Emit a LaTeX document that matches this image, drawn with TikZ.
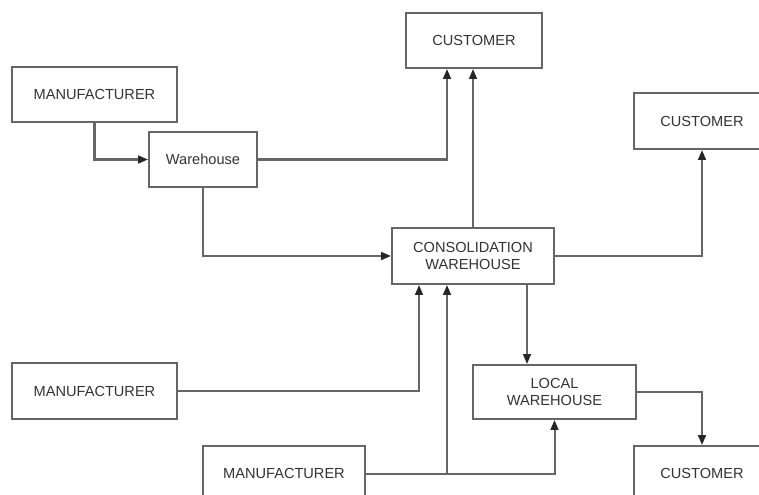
\documentclass[tikz,border=0pt]{standalone}
\usepackage{fontspec}
\setmainfont{Liberation Sans}
\usetikzlibrary{arrows.meta,calc}

\tikzset{
	box/.style={draw=black!60, line width=1.15pt, fill=white, text=black!80,
		font=\fontsize{8.3}{10}\selectfont, align=center, inner sep=0pt},
	flow/.style={draw=black!60, line width=1.15pt,
		-{Triangle[length=5.6pt,width=4.4pt,color=black!85]}}
}

\begin{document}
\begin{tikzpicture}[x=0.02cm, y=-0.02cm, line cap=butt, line join=miter]
	% page frame, boxes on the right and bottom run off the edge
	\useasboundingbox (0,0) rectangle (759,494);
	\clip (0,0) rectangle (759,494);
	
	% Boxes of the network
	\node[box, minimum width=3.3cm, minimum height=1.1cm] (mfrA) at (94.5,94.5) {MANUFACTURER};
	\node[box, minimum width=2.16cm, minimum height=1.1cm] (wh) at (203,159.5) {Warehouse};
	\node[box, minimum width=2.72cm, minimum height=1.1cm] (custA) at (474,40.5) {CUSTOMER};
	\node[box, minimum width=2.72cm, minimum height=1.12cm] (custB) at (702,121) {CUSTOMER};
	\node[box, minimum width=3.24cm, minimum height=1.12cm] (cons) at (473,256) {CONSOLIDATION\\WAREHOUSE};
	\node[box, minimum width=3.3cm, minimum height=1.12cm] (mfrB) at (94.5,391) {MANUFACTURER};
	\node[box, minimum width=3.26cm, minimum height=1.08cm] (loc) at (554.5,392) {LOCAL\\WAREHOUSE};
	\node[box, minimum width=3.24cm, minimum height=1.1cm] (mfrC) at (284,473.5) {MANUFACTURER};
	\node[box, minimum width=2.72cm, minimum height=1.1cm] (custC) at (702,473.5) {CUSTOMER};
	
	% Entry and exit points off the box centres
	\coordinate (custA-in) at ($(custA.south)+(-27,0)$);
	\coordinate (cons-inA) at ($(cons.south)+(-54,0)$);
	\coordinate (cons-inB) at ($(cons.south)+(-26,0)$);
	\coordinate (cons-out) at ($(cons.south)+(54,0)$);
	\coordinate (split) at (mfrC.east -| cons-inB);
	
	% Connectors
	\draw[flow] (mfrA.south) |- (wh.west);
	\draw[flow] (wh.east) -| (custA-in);
	\draw[flow] (wh.south) |- (cons.west);
	\draw[flow] (cons.north) -- (cons.north |- custA.south);
	\draw[flow] (cons.east) -| (custB.south);
	\draw[flow] (mfrB.east) -| (cons-inA);
	\draw[flow] (mfrC.east) -| (loc.south);
	\draw[flow] (split) -- (cons-inB);
	\draw[flow] (cons-out) -- (cons-out |- loc.north);
	\draw[flow] (loc.east) -| (custC.north);
	
\end{tikzpicture}
\end{document}
